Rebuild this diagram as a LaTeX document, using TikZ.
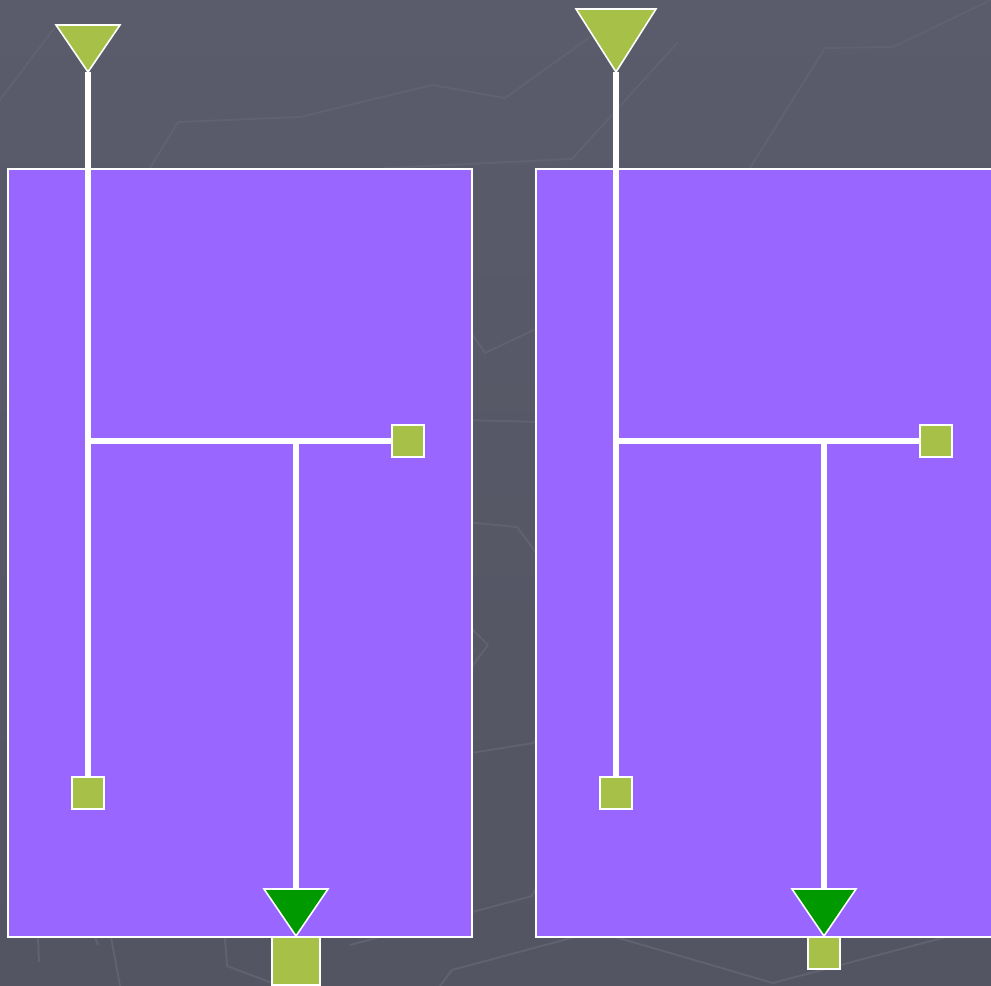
\documentclass[tikz,border=0pt]{standalone}
\begin{document}
\begin{tikzpicture}[x=0.02cm,y=-0.02cm,
  bgline/.style={draw={rgb,255:red,96;green,98;blue,112},line width=1.1pt,line join=round},
  panel/.style={fill={rgb,255:red,153;green,102;blue,255},draw=white,line width=1.2pt},
  wire/.style={draw=white,line width=3pt},
  ltri/.style={fill={rgb,255:red,166;green,192;blue,72},draw=white,line width=0.9pt,line join=miter},
  gtri/.style={fill={rgb,255:red,0;green,153;blue,0},draw=white,line width=0.9pt,line join=miter},
  sq/.style={rectangle,fill={rgb,255:red,166;green,192;blue,72},draw=white,line width=0.9pt,inner sep=0pt,minimum size=0.64cm},
  bigsq/.style={sq,minimum size=0.96cm}]
\useasboundingbox (0,0) rectangle (991,986);
\clip (0,0) rectangle (991,986);
% background
\shade[top color={rgb,255:red,90;green,91;blue,107},bottom color={rgb,255:red,83;green,85;blue,98}] (0,0) rectangle (991,986);
% faint backdrop lines
\draw[bgline] (0,100) -- (55,27);
\draw[bgline] (150,168) -- (178,122) -- (300,117) -- (432,85) -- (505,98) -- (590,37);
\draw[bgline] (385,168) -- (572,159) -- (678,42);
\draw[bgline] (750,168) -- (825,48) -- (893,47) -- (991,0);
\draw[bgline] (460,316) -- (485,353) -- (540,327);
\draw[bgline] (465,420) -- (540,422);
\draw[bgline] (465,522) -- (517,527) -- (540,558);
\draw[bgline] (465,622) -- (488,645) -- (465,676);
\draw[bgline] (465,754) -- (533,743) -- (540,735);
\draw[bgline] (465,914) -- (532,896) -- (540,880);
\draw[bgline] (38,937) -- (39,962);
\draw[bgline] (95,937) -- (98,945);
\draw[bgline] (111,937) -- (120,986);
\draw[bgline] (225,937) -- (227,966) -- (275,984);
\draw[bgline] (350,945) -- (380,937);
\draw[bgline] (440,986) -- (452,970) -- (575,937);
\draw[bgline] (615,937) -- (773,983) -- (991,925);
% panels
\draw[panel] (8,169) rectangle (472,937);
\draw[panel] (536,169) rectangle (1010,937);
% ---- left tree ----
\coordinate (la) at (88,72);
\coordinate (lj1) at (88,441);
\coordinate (lj2) at (296,441);
\coordinate (lg) at (296,889);
\node[sq] (ls1) at (88,793) {};
\node[sq] (ls2) at (408,441) {};
\draw[wire] (la) -- (ls1.north);
\draw[wire] (lj1) -- (ls2.west);
\draw[wire] (lj2) -- (lg);
\draw[ltri] (56,25) -- (120,25) -- (la) -- cycle;
\draw[gtri] (264,889) -- (328,889) -- (296,936) -- cycle;
\node[bigsq] (ls3) at (296,961) {};
% ---- right tree ----
\coordinate (ra) at (616,72);
\coordinate (rj1) at (616,441);
\coordinate (rj2) at (824,441);
\coordinate (rg) at (824,889);
\node[sq] (rs1) at (616,793) {};
\node[sq] (rs2) at (936,441) {};
\draw[wire] (ra) -- (rs1.north);
\draw[wire] (rj1) -- (rs2.west);
\draw[wire] (rj2) -- (rg);
\draw[ltri] (576,9) -- (656,9) -- (ra) -- cycle;
\draw[gtri] (792,889) -- (856,889) -- (824,936) -- cycle;
\node[sq] (rs3) at (824,953) {};
\end{tikzpicture}
\end{document}
